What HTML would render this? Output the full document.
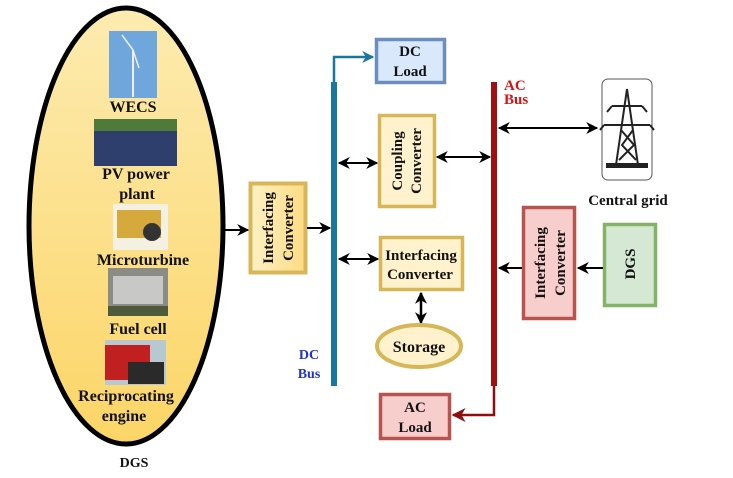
<!DOCTYPE html>
<html><head><meta charset="utf-8"><style>
html,body{margin:0;padding:0;background:#fff;}
svg{display:block;}
text{font-family:"Liberation Serif",serif;font-weight:bold;}
</style></head><body>
<svg width="733" height="478" viewBox="0 0 733 478" xmlns="http://www.w3.org/2000/svg">
<defs>
<linearGradient id="eg" x1="0" y1="0" x2="0" y2="1"><stop offset="0" stop-color="#fdebb0"/><stop offset="1" stop-color="#fbd566"/></linearGradient>
<linearGradient id="yg" x1="0" y1="0" x2="1" y2="0"><stop offset="0" stop-color="#fef1c4"/><stop offset="1" stop-color="#fbdb84"/></linearGradient>
<marker id="ah" viewBox="0 0 10 10" refX="9" refY="5" markerWidth="12" markerHeight="12" markerUnits="userSpaceOnUse" orient="auto-start-reverse"><path d="M0,0 L10,5 L0,10 L3,5 z" fill="#000"/></marker>
<marker id="ahb" viewBox="0 0 10 10" refX="9" refY="5" markerWidth="12" markerHeight="12" markerUnits="userSpaceOnUse" orient="auto"><path d="M0,0 L10,5 L0,10 L3,5 z" fill="#19779e"/></marker>
<marker id="ahr" viewBox="0 0 10 10" refX="9" refY="5" markerWidth="14" markerHeight="14" markerUnits="userSpaceOnUse" orient="auto"><path d="M0,0 L10,5 L0,10 L3,5 z" fill="#8b1010"/></marker>
</defs>

<ellipse cx="126" cy="226" rx="97" ry="218" fill="url(#eg)" stroke="#000" stroke-width="5"/>
<rect x="109" y="31" width="48" height="67" fill="#6fa6dc"/>
<line x1="133" y1="50" x2="133" y2="97" stroke="#eee" stroke-width="2"/>
<line x1="133" y1="50" x2="122" y2="35" stroke="#eee" stroke-width="1.5"/>
<line x1="133" y1="50" x2="139" y2="68" stroke="#eee" stroke-width="1.5"/>
<rect x="94" y="119" width="83" height="47" fill="#2e3f6e"/>
<rect x="94" y="119" width="83" height="12" fill="#4f7a3a"/>
<rect x="113" y="204" width="55" height="46" fill="#f4f0e2"/>
<rect x="117" y="210" width="44" height="28" fill="#d6a93c"/>
<circle cx="152" cy="232" r="9" fill="#333"/>
<rect x="108" y="268" width="60" height="48" fill="#8c8c86"/>
<rect x="113" y="276" width="50" height="28" fill="#c8c8c6"/>
<rect x="108" y="306" width="60" height="10" fill="#4f5a3a"/>
<rect x="105" y="340" width="61" height="45" fill="#b8c8d0"/>
<rect x="105" y="345" width="45" height="35" fill="#c02020"/>
<rect x="128" y="362" width="36" height="22" fill="#2a2a2a"/>
<g font-size="16" text-anchor="middle" fill="#111">
<text x="133" y="112">WECS</text>
<text x="136" y="179">PV power</text>
<text x="137" y="199">plant</text>
<text x="143" y="265">Microturbine</text>
<text x="138" y="334">Fuel cell</text>
<text x="126" y="401">Reciprocating</text>
<text x="124" y="421">engine</text>
<text x="134" y="467" font-size="14">DGS</text>
</g>

<rect x="250.5" y="183.5" width="55" height="89" fill="url(#yg)" stroke="#d9b65a" stroke-width="4"/>
<g font-size="15" text-anchor="middle" fill="#111">
<text transform="translate(273,228) rotate(-90)">Interfacing</text>
<text transform="translate(293,228) rotate(-90)">Converter</text>
</g>
<line x1="225" y1="230" x2="248" y2="230" stroke="#000" stroke-width="2" marker-end="url(#ah)"/>
<line x1="307" y1="228" x2="330" y2="228" stroke="#000" stroke-width="2" marker-end="url(#ah)"/>

<rect x="331" y="82" width="6" height="304" fill="#19779e"/>
<polyline points="334,82 334,57 373,57" fill="none" stroke="#19779e" stroke-width="2.5" marker-end="url(#ahb)"/>
<text x="309" y="359" font-size="14" fill="#2233cc" text-anchor="middle">DC</text>
<text x="309" y="378" font-size="14" fill="#2233cc" text-anchor="middle">Bus</text>

<rect x="376.5" y="39.5" width="68" height="43" fill="#dae8fc" stroke="#6c8ebf" stroke-width="3.5"/>
<text x="410" y="56" font-size="15" text-anchor="middle" fill="#111">DC</text>
<text x="410" y="76" font-size="15" text-anchor="middle" fill="#111">Load</text>

<rect x="379.5" y="115.5" width="55" height="91" fill="#fff2cc" stroke="#d6b656" stroke-width="3.5"/>
<g font-size="15" text-anchor="middle" fill="#111">
<text transform="translate(402,161) rotate(-90)">Coupling</text>
<text transform="translate(421,161) rotate(-90)">Converter</text>
</g>
<line x1="339" y1="163" x2="377" y2="163" stroke="#000" stroke-width="2" marker-start="url(#ah)" marker-end="url(#ah)"/>
<line x1="437" y1="157" x2="490" y2="157" stroke="#000" stroke-width="2" marker-start="url(#ah)" marker-end="url(#ah)"/>

<rect x="380.5" y="237.5" width="82" height="52" fill="#fff2cc" stroke="#d6b656" stroke-width="3.5"/>
<text x="421" y="260" font-size="15" text-anchor="middle" fill="#111">Interfacing</text>
<text x="420" y="279" font-size="15" text-anchor="middle" fill="#111">Converter</text>
<line x1="339" y1="259" x2="378" y2="259" stroke="#000" stroke-width="2" marker-start="url(#ah)" marker-end="url(#ah)"/>
<line x1="421" y1="293" x2="421" y2="323" stroke="#000" stroke-width="2.5" marker-start="url(#ah)" marker-end="url(#ah)"/>
<ellipse cx="419" cy="346" rx="42" ry="21" fill="#fff2cc" stroke="#d6b656" stroke-width="4"/>
<text x="419" y="352" font-size="16" text-anchor="middle" fill="#111">Storage</text>

<rect x="491" y="82" width="6" height="304" fill="#a01010"/>
<text x="504" y="90" font-size="15" fill="#dd1111">AC</text>
<text x="504" y="104" font-size="15" fill="#dd1111">Bus</text>
<polyline points="494,386 494,415 453,415" fill="none" stroke="#8b1010" stroke-width="2.5" marker-end="url(#ahr)"/>

<rect x="380.5" y="394.5" width="69" height="44" fill="#f8cecc" stroke="#b85450" stroke-width="3.5"/>
<text x="415" y="412" font-size="15" text-anchor="middle" fill="#111">AC</text>
<text x="415" y="432" font-size="15" text-anchor="middle" fill="#111">Load</text>

<line x1="499" y1="128" x2="597" y2="128" stroke="#000" stroke-width="2" marker-start="url(#ah)" marker-end="url(#ah)"/>
<rect x="602" y="79" width="50" height="101" rx="6" fill="#fff" stroke="#555" stroke-width="1"/>
<g stroke="#222" fill="none" stroke-width="2">
<path d="M627,89 L616,165 M627,89 L638,165"/>
<path d="M612,106 L642,106 M604,125 L650,125"/>
<path d="M612,106 L607,112 M642,106 L647,112 M604,125 L600,130 M650,125 L654,130"/>
<path d="M621,130 L634,145 L619,160 M633,130 L622,145 L636,160"/>
</g>
<rect x="606" y="163" width="42" height="5" fill="#222"/>
<text x="628" y="205" font-size="15" text-anchor="middle" fill="#111">Central grid</text>

<rect x="523.5" y="207.5" width="51" height="111" fill="#f8cecc" stroke="#b85450" stroke-width="3.5"/>
<g font-size="15" text-anchor="middle" fill="#111">
<text transform="translate(545,263) rotate(-90)">Interfacing</text>
<text transform="translate(565,263) rotate(-90)">Converter</text>
</g>
<line x1="522" y1="268" x2="499" y2="268" stroke="#000" stroke-width="2" marker-end="url(#ah)"/>
<rect x="604.5" y="224.5" width="51" height="81" fill="#d5e8d4" stroke="#82b366" stroke-width="3.5"/>
<text transform="translate(635,264) rotate(-90)" font-size="15" text-anchor="middle" fill="#111">DGS</text>
<line x1="603" y1="268" x2="578" y2="268" stroke="#000" stroke-width="2" marker-end="url(#ah)"/>
</svg>
</body></html>
